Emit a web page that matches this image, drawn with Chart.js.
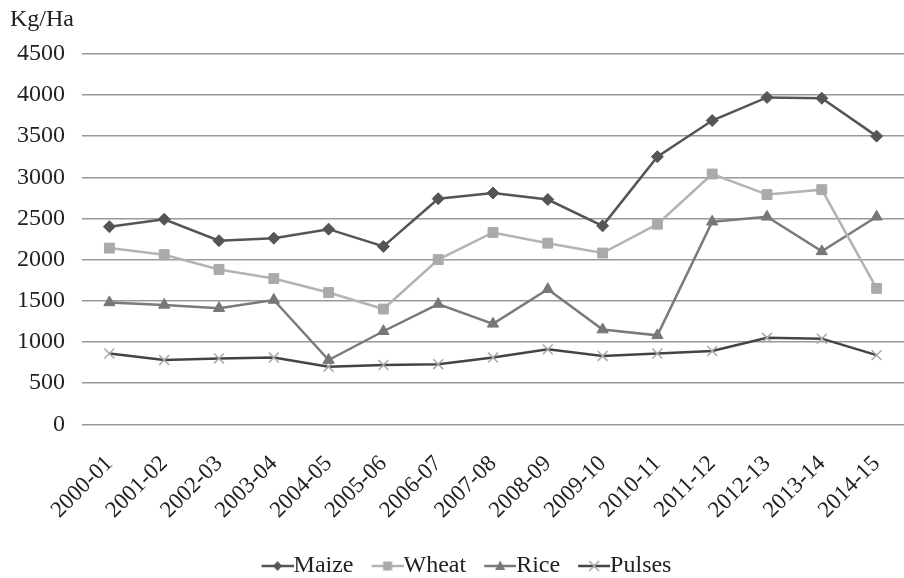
<!DOCTYPE html>
<html>
<head>
<meta charset="utf-8">
<script src="https://cdn.jsdelivr.net/npm/chart.js@4.4.1/dist/chart.umd.min.js"></script>
<style>
html,body{margin:0;padding:0;background:#fff;}
#wrap{width:904px;height:578px;position:relative;}
</style>
</head>
<body>
<div id="wrap"><canvas id="c" width="904" height="578"></canvas></div>
<script>
const categories = ["2000-01","2001-02","2002-03","2003-04","2004-05","2005-06","2006-07","2007-08","2008-09","2009-10","2010-11","2011-12","2012-13","2013-14","2014-15"];
const maize  = [2400,2490,2230,2260,2370,2160,2740,2810,2730,2410,3250,3690,3970,3960,3500];
const wheat  = [2140,2060,1880,1770,1600,1400,2000,2330,2200,2080,2430,3040,2790,2850,1650];
const rice   = [1480,1450,1410,1510,780,1130,1460,1220,1640,1150,1080,2460,2520,2100,2520];
const pulses = [860,780,800,810,700,720,730,810,910,830,860,890,1050,1040,840];
const yTicks = [0,500,1000,1500,2000,2500,3000,3500,4000,4500];
const unitLabel = "Kg/Ha";

const FONT = "'Liberation Serif','Times New Roman',serif";
const LEG_FS = 24, LEG_BW = 34;

function legendIcon(color, markColor, style){
  const W = LEG_BW + LEG_FS, L = 32, off = W - L;
  const cv = document.createElement('canvas');
  cv.width = W; cv.height = 14;
  const g = cv.getContext('2d');
  g.strokeStyle = color; g.lineWidth = 2.5;
  g.beginPath(); g.moveTo(off, 7); g.lineTo(W, 7); g.stroke();
  g.fillStyle = markColor; g.strokeStyle = markColor;
  const cx = off + L / 2, cy = 7;
  g.beginPath();
  if (style === 'rectRot'){ g.moveTo(cx,cy-5); g.lineTo(cx+4.5,cy); g.lineTo(cx,cy+5); g.lineTo(cx-4.5,cy); g.closePath(); g.fill(); }
  else if (style === 'rect'){ g.fillRect(cx-4.5,cy-4.5,9,9); }
  else if (style === 'triangle'){ g.moveTo(cx,cy-5.5); g.lineTo(cx+5,cy+4); g.lineTo(cx-5,cy+4); g.closePath(); g.fill(); }
  else { g.lineWidth = 1.5; g.moveTo(cx-5,cy-5); g.lineTo(cx+5,cy+5); g.moveTo(cx+5,cy-5); g.lineTo(cx-5,cy+5); g.stroke(); }
  return cv;
}

const series = [
  {label:"Maize", data:maize, line:"#555555", mark:"#555555", style:"rectRot", r:6},
  {label:"Wheat", data:wheat, line:"#b3b3b3", mark:"#aaaaaa", style:"rect", r:7},
  {label:"Rice", data:rice, line:"#7a7a7a", mark:"#777777", style:"triangle", r:6.5},
  {label:"Pulses", data:pulses, line:"#444444", mark:"#a8a8a8", style:"crossRot", r:7}
];

const icons = series.map(s => legendIcon(s.line, s.mark, s.style));

new Chart(document.getElementById('c'), {
  type: 'line',
  data: {
    labels: categories,
    datasets: series.map(s => ({
      label: s.label,
      data: s.data,
      borderColor: s.line,
      backgroundColor: s.mark,
      borderWidth: 2.5,
      pointStyle: s.style,
      pointRadius: s.r,
      pointHoverRadius: s.r,
      pointBackgroundColor: s.mark,
      pointBorderColor: s.mark,
      pointBorderWidth: s.style === 'crossRot' ? 1.5 : 1,
      tension: 0,
      fill: false,
      clip: false
    }))
  },
  options: {
    responsive: false,
    animation: false,
    devicePixelRatio: 1,
    layout: { autoPadding: false, padding: { left: 10, right: -5, top: 0, bottom: -10 } },
    plugins: {
      title: {
        display: true, text: unitLabel, align: 'start',
        color: '#222', font: { family: FONT, size: 24, weight: 'normal' },
        padding: { top: 5, bottom: 20 }
      },
      legend: {
        position: 'bottom',
        labels: {
          usePointStyle: true,
          pointStyleWidth: LEG_BW,
          color: '#222',
          font: { family: FONT, size: LEG_FS },
          padding: 4,
          generateLabels: (chart) => series.map((s, i) => ({
            text: s.label, pointStyle: icons[i], fillStyle: s.mark, strokeStyle: s.line,
            lineWidth: 0, hidden: false, datasetIndex: i, fontColor: '#222'
          }))
        }
      },
      tooltip: { enabled: false }
    },
    scales: {
      x: {
        offset: true,
        grid: { display: false, drawTicks: false },
        border: { display: false },
        ticks: { color: '#222', font: { family: FONT, size: 23 }, minRotation: 45, maxRotation: 45, padding: 26, autoSkip: false },
        afterFit: (axis) => { axis.paddingLeft = 0; axis.paddingRight = 0; }
      },
      y: {
        min: 0, max: 4500,
        afterBuildTicks: (axis) => { axis.ticks = yTicks.map(v => ({ value: v })); },
        afterFit: (axis) => { axis.width = 72; },
        grid: { color: '#999999', lineWidth: 1.5, drawTicks: false },
        border: { display: false },
        ticks: { color: '#222', font: { family: FONT, size: 24 }, padding: 17, callback: (v) => String(v) }
      }
    }
  }
});
</script>
</body>
</html>
